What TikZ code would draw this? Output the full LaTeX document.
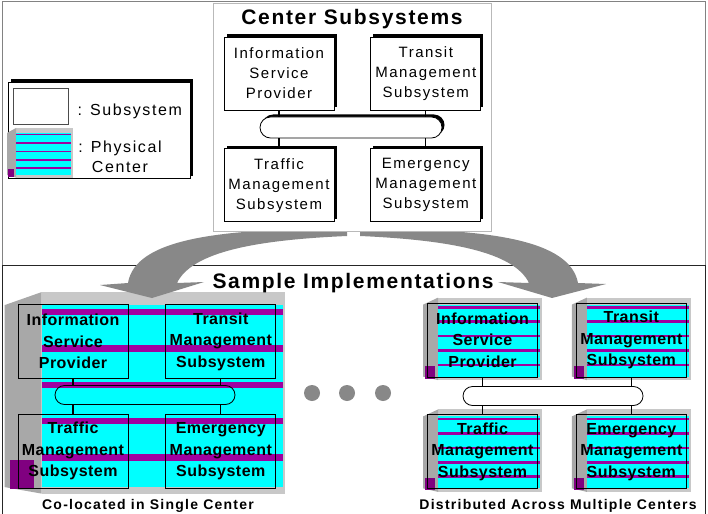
\documentclass[tikz,border=0pt]{standalone}
\usepackage{fontspec}
\setmainfont{Liberation Sans}
\newfontfamily\lightspaced[LetterSpace=10]{Liberation Sans}
\newfontfamily\boldspaced[LetterSpace=3]{Liberation Sans}
\newfontfamily\headspaced[LetterSpace=8]{Liberation Sans}
\newfontfamily\capspaced[LetterSpace=9]{Liberation Sans}
\usepackage{tikz}
\usetikzlibrary{positioning, shapes.misc, shadows, backgrounds}
\definecolor{framegray}{RGB}{130,130,130}
\definecolor{panelgray}{RGB}{185,185,185}
\definecolor{arrowgray}{RGB}{136,136,136}
\definecolor{facegray}{RGB}{200,200,200}
\definecolor{sidegray}{RGB}{168,168,168}
\definecolor{floorcyan}{RGB}{0,255,255}
\definecolor{floorpurple}{RGB}{160,0,160}
\definecolor{cornerpurple}{RGB}{128,0,128}

\begin{document}
\begin{tikzpicture}[x=1pt, y=-1pt,
    shadowed/.style={drop shadow={shadow xshift=2.5pt, shadow yshift=2.5pt,
                     fill=black, opacity=1}},
    panel/.style={rectangle, draw=panelgray, fill=white, minimum width=278pt,
                  minimum height=228pt, inner sep=0pt},
    head/.style={font=\headspaced\bfseries\fontsize{21}{24}\selectfont, anchor=base},
    subsys/.style={rectangle, draw, fill=white, line width=0.8pt, minimum width=110pt,
                   minimum height=73pt, inner sep=0pt, align=center, shadowed,
                   font=\lightspaced\fontsize{15}{20}\selectfont},
    implbox/.style={rectangle, draw, line width=0.8pt, minimum width=110pt,
                    minimum height=74pt, inner sep=0pt, align=center,
                    font=\boldspaced\bfseries\fontsize{16}{21.5}\selectfont},
    bus/.style={rounded rectangle, draw, fill=white, line width=0.8pt,
                minimum width=182pt, minimum height=21pt, inner sep=0pt, shadowed},
    implbus/.style={rounded rectangle, draw, line width=0.8pt,
                    minimum width=180pt, minimum height=19pt, inner sep=0pt},
    link/.style={line width=1.2pt},
    legendbox/.style={rectangle, draw, fill=white, minimum width=182pt,
                      minimum height=96pt, inner sep=0pt, shadowed},
    sample/.style={rectangle, draw=black!70, minimum width=55pt,
                   minimum height=36pt, inner sep=0pt},
    legendtext/.style={font=\lightspaced\fontsize{16}{20}\selectfont, align=center},
    caption/.style={font=\capspaced\bfseries\fontsize{14}{16}\selectfont, anchor=base},
    bigarrow/.style={fill=arrowgray},
    dot/.style={circle, fill=arrowgray, minimum size=16pt, inner sep=0pt},
    pics/physcenter/.style n args={4}{code={
        \fill[facegray] (0,-#4) -- (#1+2,-#4) -- (#1+2,{#2+0.5*#4})
            -- (0,{#2+0.5*#4}) -- cycle;
        \fill[sidegray] (-#3,0) -- (0,-#4) -- (0,{#2+0.5*#4}) -- (-#3,#2) -- cycle;
        \fill[floorcyan] (0,0) rectangle (#1,#2);
        \foreach \k in {0,...,4}
            \fill[floorpurple] (0,{(0.02+0.2*\k)*#2}) rectangle (#1,{(0.055+0.2*\k)*#2});
        \fill[cornerpurple] ({-0.85*#3},{0.85*#2}) rectangle ({-0.2*#3},{#2+2});
    }}
]
    \useasboundingbox (0,0) rectangle (708,513);

    % frames
    \draw[framegray, line width=1pt] (2,265) -- (2,2) -- (705,2) -- (705,265);
    \draw[black!85, line width=1pt] (2,515) -- (2,265) -- (705,265) -- (705,515);

    % big curved arrows
    \fill[bigarrow] (347,229) .. controls (215,228) and (135,240) .. (128,283)
        -- (100,285) -- (152,298) -- (204,282) -- (177,283)
        .. controls (192,252) and (255,240) .. (347,236) -- cycle;
    \fill[bigarrow] (360,229) .. controls (490,228) and (570,240) .. (578,283)
        -- (606,284) -- (552,298) -- (498,282) -- (529,283)
        .. controls (514,252) and (450,240) .. (360,236) -- cycle;

    % center subsystems
    \node[panel] (panel) at (352,117) {};
    \node[head] (ctitle) at (352,25) {Center Subsystems};
    \node[subsys] (cisp) at (279,73.5) {Information\\Service\\Provider};
    \node[subsys, right=36pt of cisp] (ctms) {Transit\\Management\\Subsystem};
    \node[subsys, below=38pt of cisp] (ctraf) {Traffic\\Management\\Subsystem};
    \node[subsys, right=36pt of ctraf] (cems) {Emergency\\Management\\Subsystem};
    \node[bus] (cbus) at (351,127.5) {};
    \draw[link] (cisp) -- (cisp |- cbus.north);
    \draw[link] (ctms) -- (ctms |- cbus.north);
    \draw[link] (ctraf) -- (ctraf |- cbus.south);
    \draw[link] (cems) -- (cems |- cbus.south);

    % legend
    \node[legendbox] (legend) at (99,130) {};
    \node[sample] (lsample) at (40.5,106) {};
    \node[legendtext, anchor=base west] (lsubtxt) at (74,116) {: Subsystem};
    \pic at (16,133) {physcenter={55}{42}{9}{5}};
    \node[legendtext] (lphystxt) at (120,157) {: Physical\\Center};

    % sample implementations
    \node[head] (stitle) at (353,288) {Sample Implementations};

    \node[implbox] (lisp) at (73,341.5) {Information\\Service\\Provider};
    \node[implbox, right=37pt of lisp] (ltms) {Transit\\Management\\Subsystem};
    \node[implbox, below=35pt of lisp] (ltraf) {Traffic\\Management\\Subsystem};
    \node[implbox, right=37pt of ltraf] (lems) {Emergency\\Management\\Subsystem};
    \node[implbus] (lbus) at (145,395) {};
    \draw[link] (lisp) -- (lisp |- lbus.north);
    \draw[link] (ltms) -- (ltms |- lbus.north);
    \draw[link] (ltraf) -- (ltraf |- lbus.south);
    \draw[link] (lems) -- (lems |- lbus.south);

    \node[implbox] (risp) at (482.5,340) {Information\\Service\\Provider};
    \node[implbox, right=38pt of risp] (rtms) {Transit\\Management\\Subsystem};
    \node[implbox, below=37pt of risp] (rtraf) {Traffic\\Management\\Subsystem};
    \node[implbox, right=38pt of rtraf] (rems) {Emergency\\Management\\Subsystem};
    \node[implbus] (rbus) at (553,396) {};
    \draw[link] (risp) -- (risp |- rbus.north);
    \draw[link] (rtms) -- (rtms |- rbus.north);
    \draw[link] (rtraf) -- (rtraf |- rbus.south);
    \draw[link] (rems) -- (rems |- rbus.south);

    \foreach \i/\px in {1/312, 2/347, 3/383}
        \node[dot] (dot\i) at (\px,393) {};

    \node[caption] (lcap) at (148,509) {Co-located in Single Center};
    \node[caption] (rcap) at (558,509) {Distributed Across Multiple Centers};

    % physical centers behind the boxes
    \begin{scope}[on background layer]
        \pic at ([shift={(24,1)}]lisp.north west) {physcenter={241}{182}{37}{13}};
        \foreach \n in {risp, rtms, rtraf, rems}
            \pic at ([shift={(11,2)}]\n.north west) {physcenter={102}{72}{15}{7}};
    \end{scope}
\end{tikzpicture}
\end{document}
